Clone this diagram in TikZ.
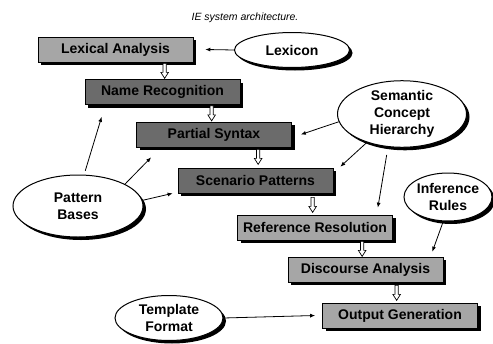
\documentclass[tikz,border=0pt]{standalone}
\usepackage{fontspec}
\setmainfont{Liberation Sans}
\usetikzlibrary{shapes.geometric,shadows,arrows.meta,calc}
\begin{document}
\begin{tikzpicture}[x=1pt,y=-1pt,
  stage/.style={draw=black, line width=0.7pt, minimum width=155pt, minimum height=25pt, inner sep=0pt,
    font=\bfseries\fontsize{14}{17}\selectfont,
    drop shadow={shadow xshift=3pt, shadow yshift=-3pt, opacity=1, fill=black}},
  light/.style={stage, fill=black!35},
  dark/.style={stage, fill=black!58},
  source/.style={ellipse, draw, line width=1pt, fill=white, inner sep=0pt, align=center,
    font=\bfseries\fontsize{14}{17}\selectfont,
    drop shadow={shadow xshift=3pt, shadow yshift=-3pt, opacity=1, fill=black}},
  feed/.style={-{Latex[length=5pt,width=4pt]}, line width=0.8pt},
  harrow/.pic={\draw[fill=white, line width=0.7pt] (-1.6,0) -- (1.6,0) -- (1.6,9) -- (3.8,9) -- (0,15) -- (-3.8,9) -- (-1.6,9) -- cycle;}]
\useasboundingbox (0,0) rectangle (493,343);

\node[font=\itshape\fontsize{10.5}{12}\selectfont] (title) at (245,18) {IE system architecture.};

\node[light] (lex)  at (115.5,49.5) {Lexical Analysis};
\node[dark]  (name) at (162.5,92)   {Name Recognition};
\node[dark]  (syn)  at (214,134.5)  {Partial Syntax};
\node[dark]  (scen) at (255.5,180.5){Scenario Patterns};
\node[light] (ref)  at (315,227.5)  {Reference Resolution};
\node[light] (disc) at (365.5,269.5){Discourse Analysis};
\node[light] (out)  at (400,315.5)  {Output Generation};

\node[source, minimum width=115pt, minimum height=35pt] (lexicon) at (292,50) {Lexicon};
\node[source, minimum width=129pt, minimum height=65pt] (sem) at (402,114) {Semantic\\Concept\\Hierarchy};
\node[source, minimum width=130pt, minimum height=62pt] (pat) at (78,206) {Pattern\\Bases};
\node[source, minimum width=85pt, minimum height=48pt] (inf) at (448,197) {Inference\\Rules};
\node[source, minimum width=108pt, minimum height=45pt] (tmpl) at (169,318) {Template\\Format};

\coordinate (h1) at ($(lex.south west)+(127,1)$);
\coordinate (h2) at ($(name.south west)+(127,1)$);
\coordinate (h3) at ($(syn.south west)+(122,2)$);
\coordinate (h4) at ($(scen.south west)+(135,4)$);
\coordinate (h5) at ($(ref.south west)+(125,1)$);
\coordinate (h6) at ($(disc.south west)+(109,3)$);
\foreach \h in {h1,h2,h3,h4,h5,h6} \pic at (\h) {harrow};

\draw[feed] (lexicon.west) -- ($(lex.east)+(12,0)$);
\draw[feed, shorten <=4pt] (pat.79) -- ($(name.south west)+(17,12)$);
\draw[feed] (pat.25) -- ($(syn.south west)+(15,10)$);
\draw[feed] (pat.5) -- ($(scen.south west)+(-5,0)$);
\draw[feed] (sem.187) -- ($(syn.east)+(9,0)$);
\draw[feed] (sem.219) -- ($(scen.north east)+(7,-1)$);
\draw[feed, shorten <=8pt] (sem.247) -- ($(ref.north east)+(-15,-7)$);
\draw[feed] (inf.259) -- ($(disc.north east)+(-11,-5)$);
\draw[feed] (tmpl.east) -- ($(out.west)+(-7,0)$);
\end{tikzpicture}
\end{document}
